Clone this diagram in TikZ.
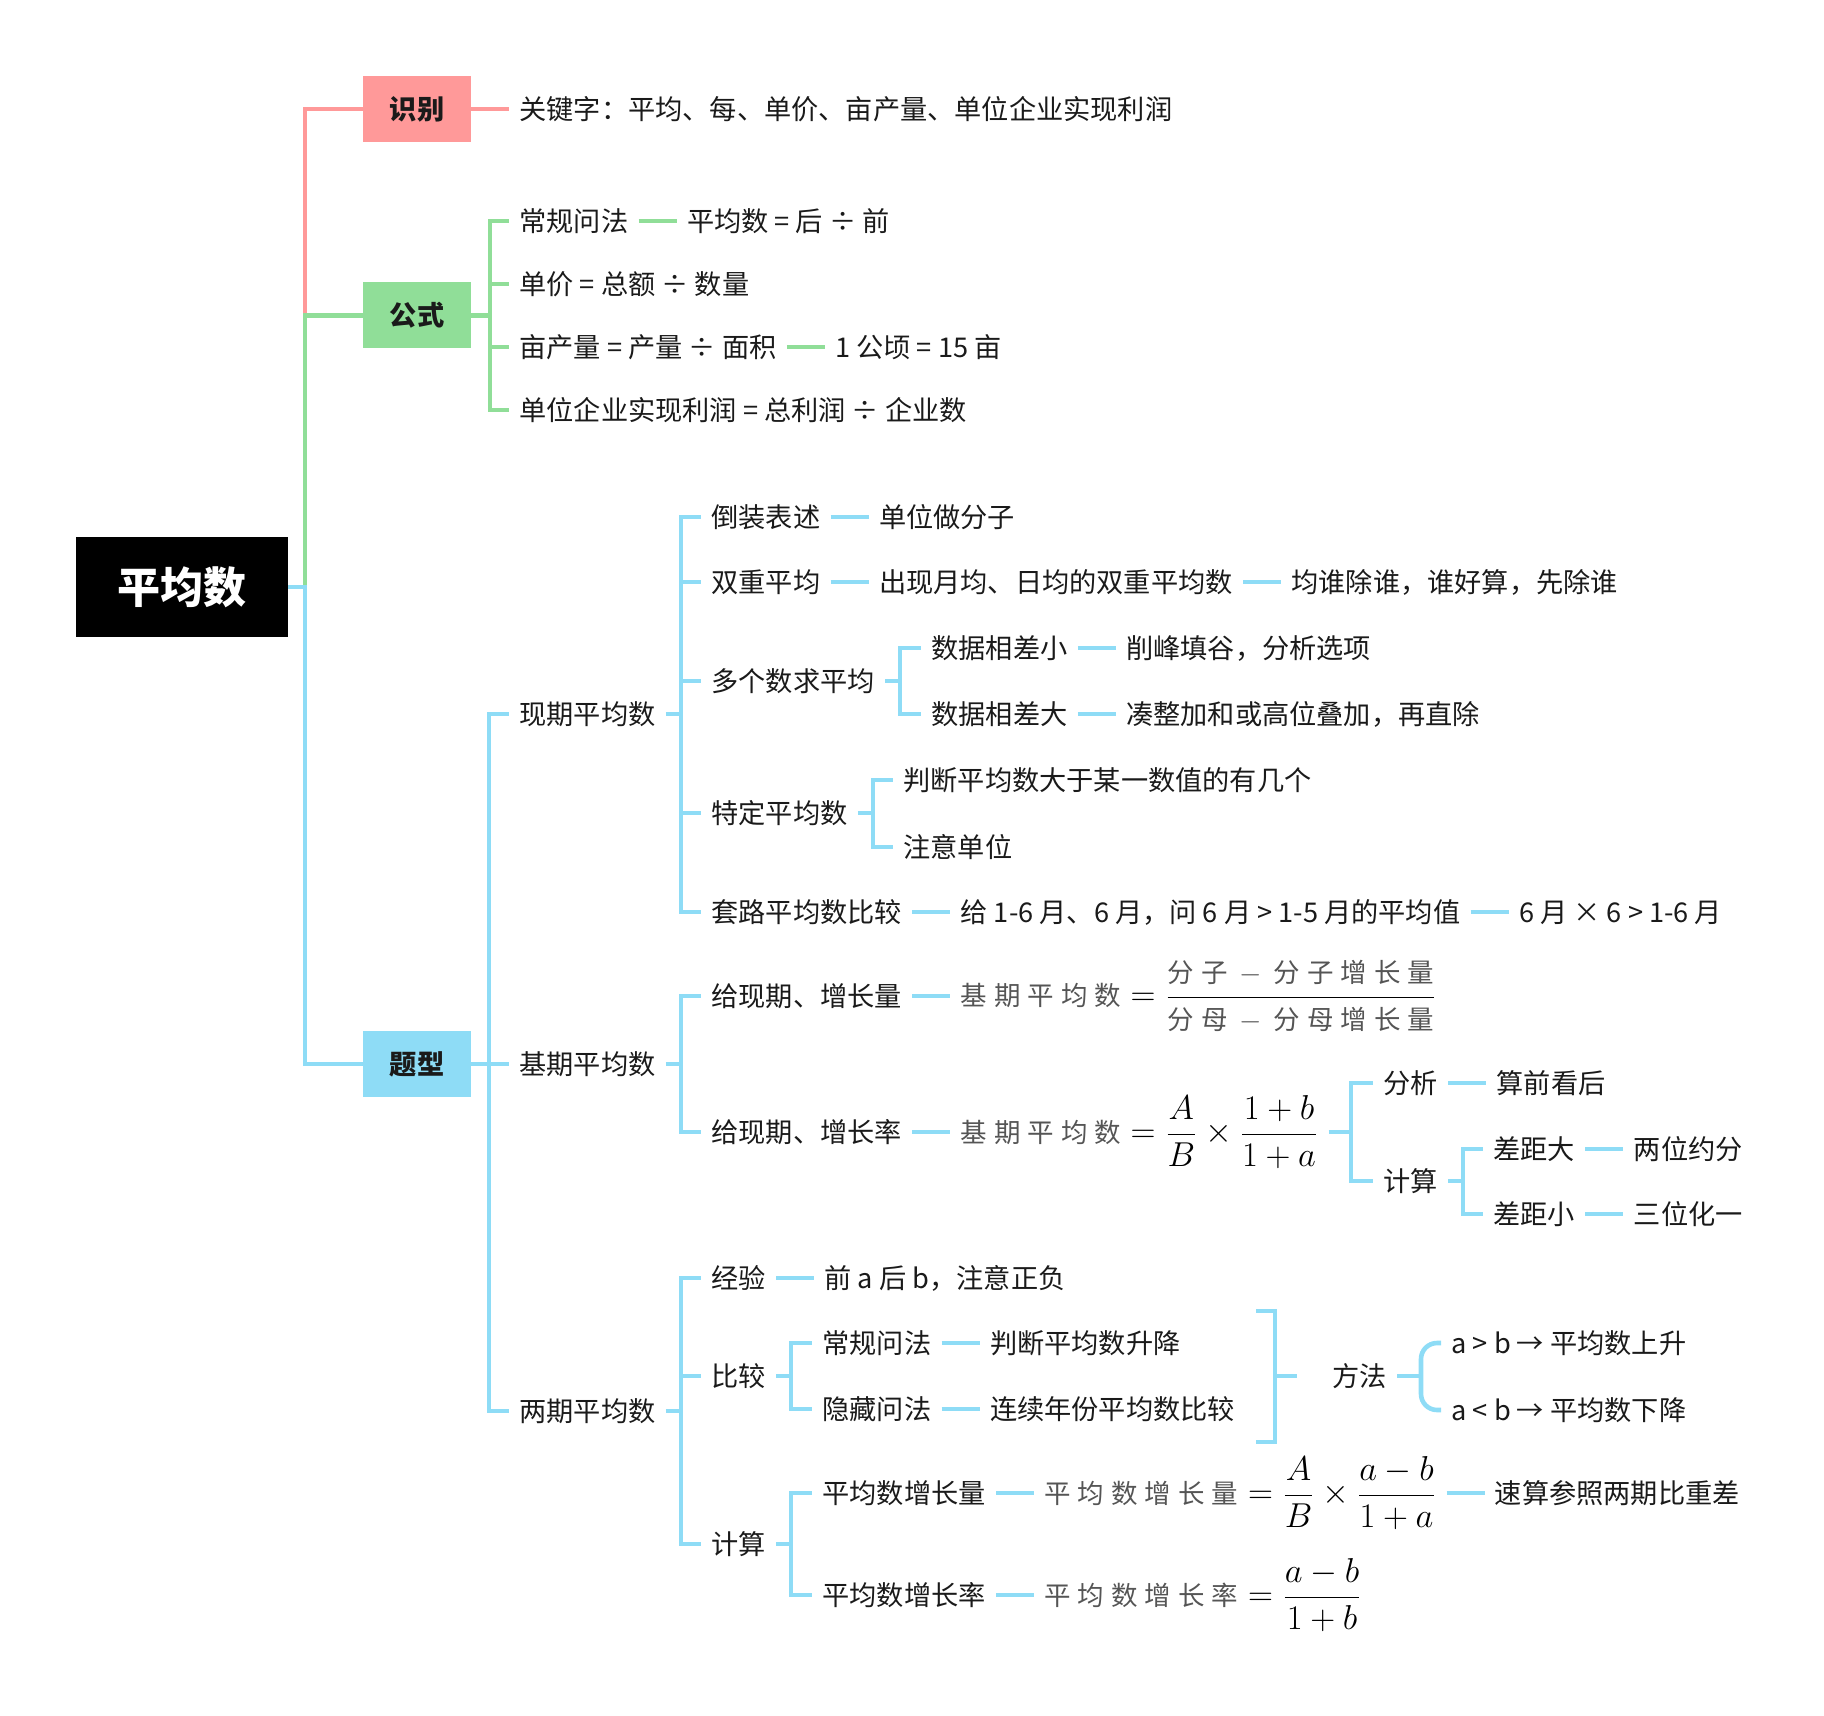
\documentclass[tikz,border=0pt]{standalone}
\usepackage{fontspec}
\setmainfont{Noto Sans CJK SC}
\usetikzlibrary{positioning}
\definecolor{pinkc}{HTML}{FF9999}
\definecolor{greenc}{HTML}{90DE98}
\definecolor{bluec}{HTML}{8EDCF6}
\definecolor{fgray}{HTML}{555555}
\definecolor{txtc}{HTML}{1A1A1A}
\newcommand\gk{\kern3.5pt}
\newcommand\gtxt[1]{\mbox{\color{fgray}\fontsize{13.25pt}{16pt}\selectfont#1}}
\newcommand\gm{\kern6pt$-$\kern6pt}
\begin{document}
\begin{tikzpicture}[x=0.5pt,y=-0.5pt,
  txt/.style={anchor=west, inner xsep=5pt, inner ysep=0pt, text height=12pt, text depth=1.6pt, font=\fontsize{13.6pt}{16pt}\selectfont, text=txtc},
  fml/.style={anchor=west, inner xsep=5pt, inner ysep=0pt, font=\fontsize{18pt}{22pt}\selectfont, text=black},
  catbox/.style={minimum width=54pt, minimum height=33pt, inner sep=0pt, font=\fontsize{13.6pt}{16pt}\selectfont\bfseries, text=txtc},
  rootbox/.style={fill=black, text=white, minimum width=106pt, minimum height=50pt, inner sep=0pt, font=\fontsize{21.5pt}{24pt}\selectfont\bfseries},
  pk/.style={draw=pinkc, line width=2.3pt},
  gr/.style={draw=greenc, line width=2.3pt},
  bl/.style={draw=bluec, line width=2.3pt},
  node distance=19pt
]
\useasboundingbox (0,0) rectangle (1824,1716);

% ---------- main boxes
\node[rootbox] (root) at (182,587) {平均数};
\node[catbox, fill=pinkc] (sb) at (417,109) {识别};
\node[catbox, fill=greenc] (gs) at (417,315.5) {公式};
\node[catbox, fill=bluec] (tx) at (417,1064) {题型};

\coordinate (trk) at (305,587);
\draw[pk] (trk) |- (sb.west);
\draw[gr] (trk) |- (gs.west);
\draw[bl] (root.east) -- (trk) |- (tx.west);

% ---------- 识别
\node[txt] (kw) at (509,109) {关键字：平均、每、单价、亩产量、单位企业实现利润};
\draw[pk] (sb.east) -- (kw.west);

% ---------- 公式
\node[txt] (g1) at (509,221) {常规问法};
\node[txt, right=of g1] (g1b) {平均数 = 后 ÷ 前};
\node[txt] (g2) at (509,284) {单价 = 总额 ÷ 数量};
\node[txt] (g3) at (509,347) {亩产量 = 产量 ÷ 面积};
\node[txt, right=of g3] (g3b) {1 公顷 = 15 亩};
\node[txt] (g4) at (509,410) {单位企业实现利润 = 总利润 ÷ 企业数};
\coordinate (gsb) at (490,315.5);
\draw[gr] (gs.east) -- (gsb);
\foreach \c in {g1,g2,g3,g4} \draw[gr] (gsb) |- (\c.west);
\draw[gr] (g1.east) -- (g1b.west);
\draw[gr] (g3.east) -- (g3b.west);

% ---------- 题型
\node[txt] (xq) at (509,714) {现期平均数};
\node[txt] (jq) at (509,1064) {基期平均数};
\node[txt] (lq) at (509,1411) {两期平均数};
\coordinate (txb) at (489,1064);
\draw[bl] (tx.east) -- (txb);
\foreach \c in {xq,jq,lq} \draw[bl] (txb) |- (\c.west);

% ---------- 现期平均数
\node[txt] (c1) at (701,517) {倒装表述};
\node[txt, right=of c1] (c1b) {单位做分子};
\node[txt] (c2) at (701,582) {双重平均};
\node[txt, right=of c2] (c2b) {出现月均、日均的双重平均数};
\node[txt, right=of c2b] (c2c) {均谁除谁，谁好算，先除谁};
\node[txt] (c3) at (701,681) {多个数求平均};
\node[txt] (d1) at (921,648) {数据相差小};
\node[txt, right=of d1] (d1b) {削峰填谷，分析选项};
\node[txt] (d2) at (921,714) {数据相差大};
\node[txt, right=of d2] (d2b) {凑整加和或高位叠加，再直除};
\node[txt] (c4) at (701,813) {特定平均数};
\node[txt] (e1) at (893,780) {判断平均数大于某一数值的有几个};
\node[txt] (e2) at (893,847) {注意单位};
\node[txt] (c5) at (701,912) {套路平均数比较};
\node[txt, right=of c5] (c5b) {给 1-6 月、6 月，问 6 月 > 1-5 月的平均值};
\node[txt, right=of c5b] (c5c) {6 月 × 6 > 1-6 月};

\coordinate (xqb) at (681,714);
\draw[bl] (xq.east) -- (xqb);
\foreach \c in {c1,c2,c3,c4,c5} \draw[bl] (xqb) |- (\c.west);
\draw[bl] (c1.east) -- (c1b.west);
\draw[bl] (c2.east) -- (c2b.west);
\draw[bl] (c2b.east) -- (c2c.west);
\coordinate (c3b) at (900,681);
\draw[bl] (c3.east) -- (c3b);
\foreach \c in {d1,d2} \draw[bl] (c3b) |- (\c.west);
\draw[bl] (d1.east) -- (d1b.west);
\draw[bl] (d2.east) -- (d2b.west);
\coordinate (c4b) at (873,813);
\draw[bl] (c4.east) -- (c4b);
\foreach \c in {e1,e2} \draw[bl] (c4b) |- (\c.west);
\draw[bl] (c5.east) -- (c5b.west);
\draw[bl] (c5b.east) -- (c5c.west);

% ---------- 基期平均数
\node[txt] (f1) at (701,996) {给现期、增长量};
\node[fml, right=of f1] (f1b) {$\displaystyle \gtxt{基\gk 期\gk 平\gk 均\gk 数}=\frac{\gtxt{分\gk 子\gm 分\gk 子\gk 增\gk 长\gk 量}}{\gtxt{分\gk 母\gm 分\gk 母\gk 增\gk 长\gk 量}}$};
\node[txt] (f2) at (701,1132) {给现期、增长率};
\node[fml, right=of f2] (f2b) {$\displaystyle \gtxt{基\gk 期\gk 平\gk 均\gk 数}=\frac{A}{B}\times\frac{1+b}{1+a}$};
\node[txt] (h1) at (1373,1083) {分析};
\node[txt, right=of h1] (h1b) {算前看后};
\node[txt] (h2) at (1373,1181) {计算};
\node[txt] (k1) at (1483,1149) {差距大};
\node[txt, right=of k1] (k1b) {两位约分};
\node[txt] (k2) at (1483,1214) {差距小};
\node[txt, right=of k2] (k2b) {三位化一};

\coordinate (jqb) at (681,1064);
\draw[bl] (jq.east) -- (jqb);
\foreach \c in {f1,f2} \draw[bl] (jqb) |- (\c.west);
\draw[bl] (f1.east) -- (f1b.west);
\draw[bl] (f2.east) -- (f2b.west);
\coordinate (f2bb) at (1351,1132);
\draw[bl] (f2b.east) -- (f2bb);
\foreach \c in {h1,h2} \draw[bl] (f2bb) |- (\c.west);
\draw[bl] (h1.east) -- (h1b.west);
\coordinate (h2b) at (1463,1181);
\draw[bl] (h2.east) -- (h2b);
\foreach \c in {k1,k2} \draw[bl] (h2b) |- (\c.west);
\draw[bl] (k1.east) -- (k1b.west);
\draw[bl] (k2.east) -- (k2b.west);

% ---------- 两期平均数
\node[txt] (m1) at (701,1278) {经验};
\node[txt, right=of m1] (m1b) {前 a 后 b，注意正负};
\node[txt] (m2) at (701,1376) {比较};
\node[txt] (n1) at (812,1343) {常规问法};
\node[txt, right=of n1] (n1b) {判断平均数升降};
\node[txt] (n2) at (812,1409) {隐藏问法};
\node[txt, right=of n2] (n2b) {连续年份平均数比较};
\node[txt] (ff) at (1322,1376) {方法};
\node[txt] (o1) at (1441,1343) {a > b → 平均数上升};
\node[txt] (o2) at (1441,1410) {a < b → 平均数下降};
\node[txt] (m3) at (701,1544) {计算};
\node[txt] (p1) at (812,1493) {平均数增长量};
\node[fml, right=of p1] (p1b) {$\displaystyle \gtxt{平\gk 均\gk 数\gk 增\gk 长\gk 量}=\frac{A}{B}\times\frac{a-b}{1+a}$};
\node[txt, right=of p1b] (p1c) {速算参照两期比重差};
\node[txt] (p2) at (812,1595) {平均数增长率};
\node[fml, right=of p2] (p2b) {$\displaystyle \gtxt{平\gk 均\gk 数\gk 增\gk 长\gk 率}=\frac{a-b}{1+b}$};

\coordinate (lqb) at (681,1411);
\draw[bl] (lq.east) -- (lqb);
\foreach \c in {m1,m2,m3} \draw[bl] (lqb) |- (\c.west);
\draw[bl] (m1.east) -- (m1b.west);
\coordinate (m2b) at (791,1376);
\draw[bl] (m2.east) -- (m2b);
\foreach \c in {n1,n2} \draw[bl] (m2b) |- (\c.west);
\draw[bl] (n1.east) -- (n1b.west);
\draw[bl] (n2.east) -- (n2b.west);
% summary bracket
\coordinate (rbt) at (1256,1311);
\coordinate (rbm) at (1275,1376);
\coordinate (rbb) at (1256,1442);
\coordinate (rbe) at (1297,1376);
\draw[bl] (rbt) -| (rbm) |- (rbb);
\draw[bl] (rbm) -- (rbe);
% curly bracket
\coordinate (cbm) at (1421,1376);
\draw[bl] (ff.east) -- (cbm);
\draw[bl, rounded corners=8pt] (o1.west) -| (cbm) |- (o2.west);
\coordinate (m3b) at (791,1544);
\draw[bl] (m3.east) -- (m3b);
\foreach \c in {p1,p2} \draw[bl] (m3b) |- (\c.west);
\draw[bl] (p1.east) -- (p1b.west);
\draw[bl] (p1b.east) -- (p1c.west);
\draw[bl] (p2.east) -- (p2b.west);
\end{tikzpicture}
\end{document}
